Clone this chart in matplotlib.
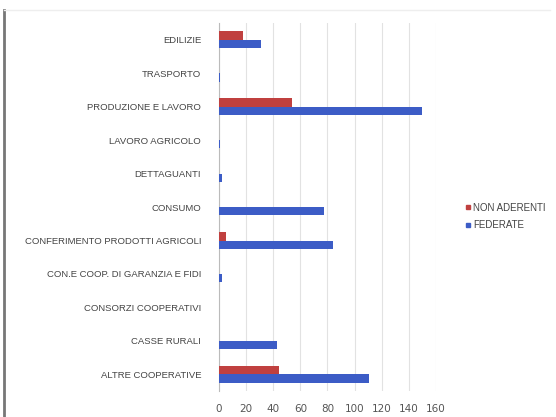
import matplotlib
matplotlib.use("Agg")
import matplotlib.pyplot as plt
import numpy as np
from matplotlib.lines import Line2D

categories = ["EDILIZIE", "TRASPORTO", "PRODUZIONE E LAVORO", "LAVORO AGRICOLO",
              "DETTAGUANTI", "CONSUMO", "CONFERIMENTO PRODOTTI AGRICOLI",
              "CON.E COOP. DI GARANZIA E FIDI", "CONSORZI COOPERATIVI",
              "CASSE RURALI", "ALTRE COOPERATIVE"]
non_aderenti = [18, 0.3, 54, 0, 0, 0.3, 5, 0, 0, 0, 44]
federate = [31, 0.5, 150, 1, 2, 77.5, 84, 2, 0.3, 42.5, 111]
xticks = [0, 20, 40, 60, 80, 100, 120, 140, 160]

red = "#c0403f"
blue = "#3c5cc6"

fig = plt.figure(figsize=(5.56, 4.17), dpi=100)
fig.patch.set_facecolor("white")
ax = fig.add_axes([0.394, 0.062, 0.390, 0.883])

y = np.arange(len(categories))
h = 0.25
ax.barh(y - h / 2, non_aderenti, height=h, color=red, label="NON ADERENTI", zorder=3)
ax.barh(y + h / 2, federate, height=h, color=blue, label="FEDERATE", zorder=3)

ax.set_ylim(len(categories) - 0.5, -0.5)
ax.set_xlim(0, 160)
ax.set_xticks(xticks)
ax.set_yticks(y)
ax.set_yticklabels(categories, fontsize=6.8, color="#444444", family="Liberation Sans")
ax.tick_params(axis="x", labelsize=7.5, colors="#555555", length=0, pad=9)
ax.tick_params(axis="y", length=0, pad=13)
ax.grid(axis="x", color="#e2e2e2", linewidth=0.8, zorder=0)
for s in ["top", "right", "bottom"]:
    ax.spines[s].set_visible(False)
ax.spines["left"].set_color("#bbbbbb")

handles = [Line2D([], [], marker="s", linestyle="", color=red, markersize=3.5),
           Line2D([], [], marker="s", linestyle="", color=blue, markersize=3.5)]
leg = fig.legend(handles, ["NON ADERENTI", "FEDERATE"], loc="upper left",
                 bbox_to_anchor=(0.82, 0.535), frameon=False, handlelength=0.6,
                 handletextpad=0.3, labelspacing=0.75,
                 prop={"size": 7, "family": "Liberation Sans"})
for t in leg.get_texts():
    t.set_color("#444444")

# scanned page frame
fig.add_artist(Line2D([0.007, 0.007], [0.0, 0.975], color="#777777", linewidth=2, transform=fig.transFigure))
fig.add_artist(Line2D([0.007, 0.99], [0.975, 0.975], color="#eeeeee", linewidth=1, transform=fig.transFigure))

fig.savefig("out.png", dpi=100)
